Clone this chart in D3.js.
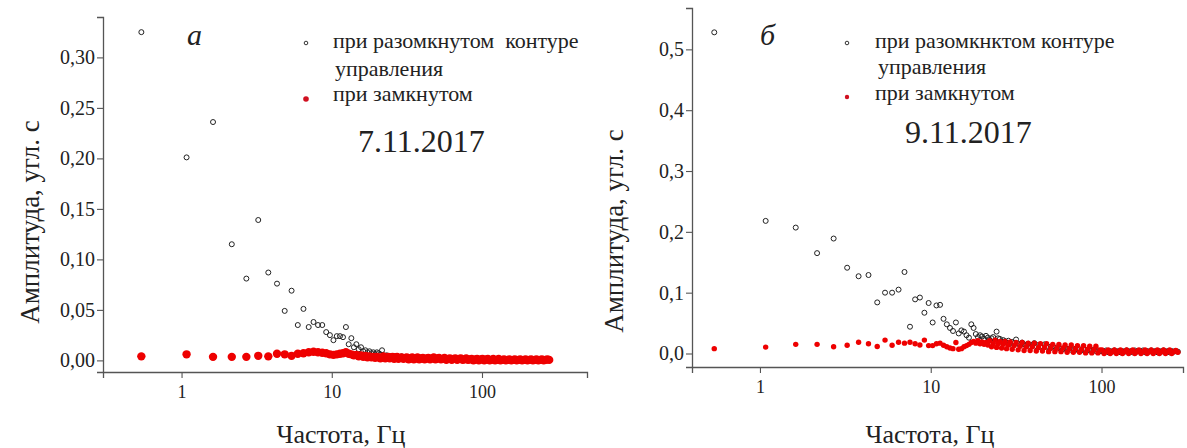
<!DOCTYPE html>
<meta charset="utf-8">
<script src="https://d3js.org/d3.v7.min.js"></script>
<style>
  body { margin: 0; background: #fff; }
  svg text { font-family: "Liberation Serif", "DejaVu Serif", serif; fill: #222; }
</style>
<div id="chart"></div>
<script>
// spectrum bins, Hz (shared by both plots)
var freqHz = [0.54,1.08,1.62,2.16,2.70,3.24,3.78,4.32,4.86,5.40,5.94,6.48,7.02,7.56,8.10,8.64,9.18,9.72,10.26,10.80,
  11.34,11.88,12.42,12.96,13.50,14.04,14.58,15.12,15.66,16.20,16.74,17.28,17.82,18.36,18.90,19.44,19.98,20.52,21.06,21.60,
  22.1,22.7,23.2,23.8,24.3,24.8,25.4,26,26.6,27.2,27.8,28.5,29.2,30,30.8,31.6,32.5,33.4,34.3,35.2,
  36.2,37.2,38.2,39.3,40.4,41.5,42.7,43.9,45.1,46.4,47.7,49,50.4,51.8,53.3,54.8,56.3,57.9,59.5,61.2,
  62.9,64.7,66.5,68.4,70.3,72.3,74.3,76.4,78.5,80.7,83,85.3,87.7,90.2,92.7,95.3,98,100.7,103.5,106.4,
  109.4,112.5,115.6,118.9,122.2,125.6,129.1,132.7,136.4,140.3,144.2,148.2,152.4,156.7,161,165.6,170.2,175,179.9,184.9,
  190.1,195.4,200.9,206.5,212.3,218.3,224.4,230.7,237.1,243.8,250.6,257.6,264.8,272.2,280];

// (а) 7.11.2017, open control loop
var openA = [0.325,0.201,0.236,0.115,0.081,0.139,0.087,0.076,0.049,0.069,0.035,0.051,0.033,0.038,0.035,0.035,0.028,0.025,0.020,0.024,
  0.024,0.023,0.033,0.016,0.022,0.013,0.016,0.011,0.013,0.009,0.010,0.008,0.009,0.007,0.008,0.006,0.008,0.007,0.006,0.010,
  0.005,0.004,0.005,0.004,0.003,0.004,0.003,0.004,0.003,0.004,0.003,0.003,0.004,0.003,0.003,0.002,0.003,0.002,0.002,0.003,
  0.002,0.002,0.003,0.002,0.002,0.002,0.002,0.001,0.002,0.002,0.0015,0.001,0.002,0.0015,0.001,0.0015,0.001,0.001,0.0015,0.001,
  0.0015,0.001,0.001,0.001,0.001,0.001,0.0005,0.001,0.001,0.0005,0.001,0.001,0.0005,0.001,0.001,0.0005,0.001,0.0005,0.001,0.0005,
  0.001,0.0005,0.001,0.0005,0.001,0.0005,0.001,0.0005,0.001,0.0005,0.001,0.0005,0.001,0.0005,0.001,0.0005,0.001,0.0005,0.001,0.0005,
  0.001,0.0005,0.001,0.0005,0.001,0.0005,0.001,0.0005,0.001,0.0005,0.001,0.0005,0.001,0.0005,0.001];
// (а) closed loop
var closedA = [0.004,0.006,0.0035,0.0035,0.0035,0.0045,0.004,0.0065,0.006,0.0045,0.0065,0.007,0.008,0.0085,0.008,0.0075,0.007,0.006,0.0055,0.006,
  0.0065,0.007,0.008,0.0065,0.006,0.005,0.0055,0.004,0.005,0.0035,0.0045,0.003,0.004,0.003,0.0035,0.0025,0.0035,0.003,0.002,0.003,
  0.004,0.002,0.003,0.0035,0.002,0.003,0.0035,0.0015,0.003,0.0035,0.0015,0.0025,0.003,0.0015,0.0025,0.003,0.001,0.002,0.003,0.001,
  0.002,0.003,0.001,0.002,0.0025,0.001,0.002,0.0025,0.001,0.002,0.003,0.001,0.002,0.0025,0.001,0.0015,0.0025,0.0005,0.0015,0.002,
  0.0005,0.0015,0.002,0.0005,0.0015,0.002,0.0005,0.001,0.002,0.0005,0.001,0.0015,0,0.001,0.0015,0,0.001,0.0015,0,0.001,
  0.0015,0,0.0005,0.0015,0,0.0005,0.0015,0,0.0005,0.001,0,0.0005,0.001,0,0.0005,0.001,0,0.0005,0.001,0,
  0.0005,0.001,0,0.0005,0.001,0,0.0005,0.001,0,0.0005,0.001,0,0.0005,0.001,0.0005];

// (б) 9.11.2017, open control loop
var openB = [0.528,0.218,0.207,0.165,0.189,0.141,0.127,0.129,0.084,0.100,0.100,0.105,0.134,0.044,0.089,0.092,0.067,0.083,0.051,0.079,
  0.080,0.057,0.048,0.042,0.037,0.051,0.033,0.038,0.036,0.030,0.026,0.048,0.042,0.032,0.027,0.030,0.028,0.024,0.029,0.026,
  0.022,0.025,0.027,0.021,0.036,0.025,0.024,0.019,0.022,0.020,0.018,0.021,0.016,0.019,0.017,0.023,0.016,0.014,0.018,0.015,
  0.013,0.016,0.012,0.014,0.017,0.012,0.014,0.010,0.012,0.015,0.010,0.011,0.009,0.012,0.009,0.008,0.010,0.008,0.007,0.009,
  0.007,0.008,0.006,0.008,0.007,0.006,0.007,0.005,0.007,0.006,0.005,0.006,0.005,0.006,0.004,0.005,0.004,0.004,0.003,0.005,
  0.002,0.004,0.003,0.005,0.003,0.004,0.002,0.004,0.003,0.005,0.003,0.004,0.002,0.005,0.003,0.004,0.003,0.005,0.002,0.004,
  0.003,0.005,0.003,0.004,0.002,0.004,0.003,0.005,0.003,0.004,0.002,0.004,0.003,0.004,0.003];
// (б) closed loop
var closedB = [0.008,0.0105,0.015,0.015,0.011,0.0135,0.0185,0.016,0.0115,0.022,0.0135,0.0185,0.017,0.0185,0.016,0.014,0.022,0.013,0.013,0.016,
  0.017,0.0135,0.011,0.009,0.008,0.018,0.007,0.008,0.011,0.013,0.015,0.018,0.020,0.017,0.021,0.016,0.019,0.015,0.018,0.014,
  0.021,0.011,0.016,0.022,0.010,0.016,0.020,0.009,0.015,0.020,0.008,0.014,0.019,0.007,0.013,0.018,0.006,0.012,0.018,0.005,
  0.011,0.017,0.005,0.011,0.017,0.004,0.010,0.016,0.004,0.010,0.016,0.003,0.009,0.015,0.003,0.009,0.015,0.003,0.009,0.014,
  0.002,0.008,0.014,0.002,0.008,0.013,0.002,0.007,0.013,0.001,0.007,0.012,0.001,0.006,0.012,0.001,0.006,0.006,0,0.003,
  0.006,0,0.003,0.006,0,0.003,0.006,0,0.003,0.006,0,0.003,0.006,0,0.003,0.006,0,0.003,0.006,0,
  0.003,0.006,0,0.003,0.006,0,0.003,0.006,0,0.003,0.006,0,0.003,0.005,0.002];

var xTicks = [1, 10, 100];
var yTicksA = [0, 0.05, 0.10, 0.15, 0.20, 0.25, 0.30];
var yTicksB = [0, 0.1, 0.2, 0.3, 0.4, 0.5];

var W = 1187, H = 448;
var svg = d3.select("#chart").append("svg").attr("width", W).attr("height", H);

var panels = [
  { left: 103, right: 587, top: 17, bottom: 372, xDom: [0.3, 500], yDom: [-0.0115, 0.34],
    yTicks: yTicksA, yMinorStep: 0.01, fmt: function(d) { return d3.format(".2f")(d).replace(".", ","); },
    open: openA, closed: closedA, rOpen: 2.5, rClosed: 4.2,
    letter: "а", letterX: 187, date: "7.11.2017", dateX: 358, dateY: 152,
    legX: 306, txtX: 333, txt2X: 335, legY: [48, 76, 101], legDot: [43, 99], rLegOpen: 1.8, rLegClosed: 2.8,
    legText: "при разомкнутом  контуре", yLabX: 30, yLabY: 222, xLabX: 341 },
  { left: 692, right: 1183, top: 8, bottom: 367, xDom: [0.4, 300], yDom: [-0.0222, 0.568],
    yTicks: yTicksB, yMinorStep: 0.02, fmt: function(d) { return d3.format(".1f")(d).replace(".", ","); },
    open: openB, closed: closedB, rOpen: 2.5, rClosed: 2.7,
    letter: "б", letterX: 760, date: "9.11.2017", dateX: 905, dateY: 143,
    legX: 847, txtX: 875, txt2X: 878, legY: [48, 74, 100], legDot: [43, 97], rLegOpen: 1.8, rLegClosed: 2.2,
    legText: "при разомкнктом контуре", yLabX: 614, yLabY: 231, xLabX: 930 }
];

panels.forEach(function(p) {
  var g = svg.append("g");
  var x = d3.scaleLog().domain(p.xDom).range([p.left, p.right]);
  var y = d3.scaleLinear().domain(p.yDom).range([p.bottom, p.top]);

  // minor ticks on log axis
  var minorX = [];
  [0.1, 1, 10, 100].forEach(function(dec) {
    for (var k = 2; k <= 9; k++) {
      var v = dec * k;
      if (v >= p.xDom[0] && v <= p.xDom[1]) minorX.push(v);
    }
  });
  var minorY = d3.range(0, p.yDom[1], p.yMinorStep).filter(function(v) {
    return p.yTicks.every(function(t) { return Math.abs(t - v) > 1e-6; });
  });

  var axX = g.append("g").attr("transform", "translate(0," + p.bottom + ")");
  axX.call(d3.axisBottom(x).tickValues(minorX).tickSize(4).tickFormat(""));
  axX.call(d3.axisBottom(x).tickValues(xTicks).tickSize(6).tickFormat(d3.format("d")));
  axX.attr("font-family", null).selectAll("text").style("font-size", "18px").attr("dy", "0.95em");

  var axY = g.append("g").attr("transform", "translate(" + p.left + ",0)");
  axY.call(d3.axisLeft(y).tickValues(minorY).tickSize(3.5).tickFormat(""));
  axY.call(d3.axisLeft(y).tickValues(p.yTicks).tickSize(6).tickFormat(p.fmt));
  axY.attr("font-family", null).selectAll("text").style("font-size", "20px").attr("x", -8);

  g.selectAll(".domain").attr("stroke", "#555").attr("stroke-width", 1.3);
  g.selectAll(".tick line").attr("stroke", "#555").attr("stroke-width", 1.1);

  var pts = freqHz.map(function(f, i) { return { f: f, o: p.open[i], c: p.closed[i] }; });

  // open loop: hollow black circles
  g.append("g").selectAll("circle").data(pts).enter().append("circle")
    .attr("cx", function(d) { return x(d.f); })
    .attr("cy", function(d) { return y(d.o); })
    .attr("r", p.rOpen)
    .attr("fill", "none").attr("stroke", "#222").attr("stroke-width", 1);

  // closed loop: red filled circles
  g.append("g").selectAll("circle").data(pts).enter().append("circle")
    .attr("cx", function(d) { return x(d.f); })
    .attr("cy", function(d) { return y(d.c); })
    .attr("r", p.rClosed)
    .attr("fill", "#ee0000");

  // panel letter
  g.append("text").attr("x", p.letterX).attr("y", 45).text(p.letter)
    .style("font-size", "30px").style("font-style", "italic");

  // legend
  g.append("circle").attr("cx", p.legX).attr("cy", p.legDot[0]).attr("r", p.rLegOpen)
    .attr("fill", "none").attr("stroke", "#333").attr("stroke-width", 1);
  g.append("circle").attr("cx", p.legX).attr("cy", p.legDot[1]).attr("r", p.rLegClosed)
    .attr("fill", "#d01020");
  g.append("text").attr("x", p.txtX).attr("y", p.legY[0]).text(p.legText).style("font-size", "22px").style("white-space", "pre");
  g.append("text").attr("x", p.txt2X).attr("y", p.legY[1]).text("управления").style("font-size", "22px");
  g.append("text").attr("x", p.txtX).attr("y", p.legY[2]).text("при замкнутом").style("font-size", "22px");
  g.append("text").attr("x", p.dateX).attr("y", p.dateY).text(p.date).style("font-size", "32px");

  // axis titles
  g.append("text").attr("transform", "translate(" + p.yLabX + "," + p.yLabY + ") rotate(-90)")
    .attr("text-anchor", "middle").attr("dy", "0.35em").style("font-size", "27px")
    .text("Амплитуда, угл. с");
  g.append("text").attr("x", p.xLabX).attr("y", 443).attr("text-anchor", "middle")
    .style("font-size", "26px").text("Частота, Гц");
});
</script>
